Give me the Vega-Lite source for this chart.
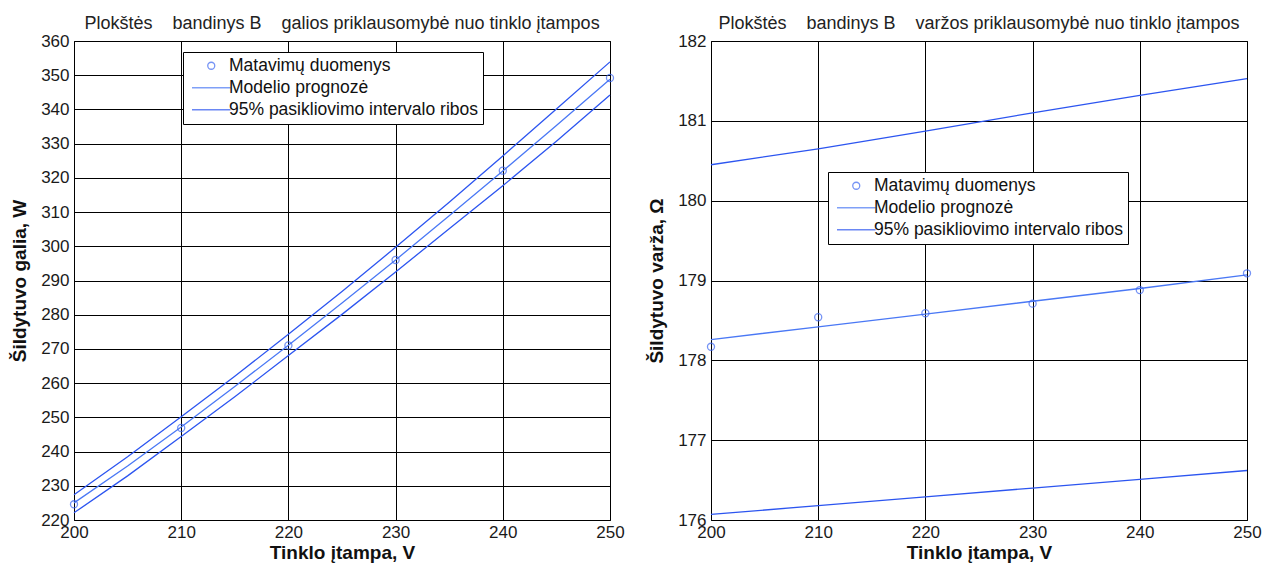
{
  "$schema": "https://vega.github.io/schema/vega-lite/v6.json",
  "background": "white",
  "padding": {"left": 10, "top": 14, "right": 5, "bottom": 0},
  "spacing": 22,
  "datasets": {
    "galia_lines": [
      {"x": 200, "y": 225.0, "series": "Modelio prognozė", "curve": "m"},
      {"x": 205, "y": 235.8, "series": "Modelio prognozė", "curve": "m"},
      {"x": 210, "y": 247.2, "series": "Modelio prognozė", "curve": "m"},
      {"x": 215, "y": 259.0, "series": "Modelio prognozė", "curve": "m"},
      {"x": 220, "y": 271.1, "series": "Modelio prognozė", "curve": "m"},
      {"x": 225, "y": 283.4, "series": "Modelio prognozė", "curve": "m"},
      {"x": 230, "y": 296.0, "series": "Modelio prognozė", "curve": "m"},
      {"x": 235, "y": 308.9, "series": "Modelio prognozė", "curve": "m"},
      {"x": 240, "y": 322.0, "series": "Modelio prognozė", "curve": "m"},
      {"x": 245, "y": 335.3, "series": "Modelio prognozė", "curve": "m"},
      {"x": 250, "y": 348.8, "series": "Modelio prognozė", "curve": "m"},
      {"x": 200, "y": 227.4, "series": "95% pasikliovimo intervalo ribos", "curve": "u"},
      {"x": 205, "y": 238.5, "series": "95% pasikliovimo intervalo ribos", "curve": "u"},
      {"x": 210, "y": 250.2, "series": "95% pasikliovimo intervalo ribos", "curve": "u"},
      {"x": 215, "y": 262.0, "series": "95% pasikliovimo intervalo ribos", "curve": "u"},
      {"x": 220, "y": 274.3, "series": "95% pasikliovimo intervalo ribos", "curve": "u"},
      {"x": 225, "y": 286.8, "series": "95% pasikliovimo intervalo ribos", "curve": "u"},
      {"x": 230, "y": 299.7, "series": "95% pasikliovimo intervalo ribos", "curve": "u"},
      {"x": 235, "y": 312.9, "series": "95% pasikliovimo intervalo ribos", "curve": "u"},
      {"x": 240, "y": 326.4, "series": "95% pasikliovimo intervalo ribos", "curve": "u"},
      {"x": 245, "y": 340.1, "series": "95% pasikliovimo intervalo ribos", "curve": "u"},
      {"x": 250, "y": 353.9, "series": "95% pasikliovimo intervalo ribos", "curve": "u"},
      {"x": 200, "y": 222.1, "series": "95% pasikliovimo intervalo ribos", "curve": "l"},
      {"x": 205, "y": 232.9, "series": "95% pasikliovimo intervalo ribos", "curve": "l"},
      {"x": 210, "y": 244.4, "series": "95% pasikliovimo intervalo ribos", "curve": "l"},
      {"x": 215, "y": 256.0, "series": "95% pasikliovimo intervalo ribos", "curve": "l"},
      {"x": 220, "y": 268.1, "series": "95% pasikliovimo intervalo ribos", "curve": "l"},
      {"x": 225, "y": 280.1, "series": "95% pasikliovimo intervalo ribos", "curve": "l"},
      {"x": 230, "y": 292.5, "series": "95% pasikliovimo intervalo ribos", "curve": "l"},
      {"x": 235, "y": 305.1, "series": "95% pasikliovimo intervalo ribos", "curve": "l"},
      {"x": 240, "y": 317.7, "series": "95% pasikliovimo intervalo ribos", "curve": "l"},
      {"x": 245, "y": 330.7, "series": "95% pasikliovimo intervalo ribos", "curve": "l"},
      {"x": 250, "y": 344.2, "series": "95% pasikliovimo intervalo ribos", "curve": "l"}
    ],
    "galia_points": [
      {"x": 200, "y": 224.6, "series": "Matavimų duomenys"},
      {"x": 210, "y": 246.9, "series": "Matavimų duomenys"},
      {"x": 220, "y": 271.0, "series": "Matavimų duomenys"},
      {"x": 230, "y": 296.0, "series": "Matavimų duomenys"},
      {"x": 240, "y": 322.1, "series": "Matavimų duomenys"},
      {"x": 250, "y": 349.2, "series": "Matavimų duomenys"}
    ],
    "varza_lines": [
      {"x": 200, "y": 178.26, "series": "Modelio prognozė", "curve": "m"},
      {"x": 210, "y": 178.42, "series": "Modelio prognozė", "curve": "m"},
      {"x": 220, "y": 178.58, "series": "Modelio prognozė", "curve": "m"},
      {"x": 230, "y": 178.74, "series": "Modelio prognozė", "curve": "m"},
      {"x": 240, "y": 178.90, "series": "Modelio prognozė", "curve": "m"},
      {"x": 250, "y": 179.07, "series": "Modelio prognozė", "curve": "m"},
      {"x": 200, "y": 180.45, "series": "95% pasikliovimo intervalo ribos", "curve": "u"},
      {"x": 210, "y": 180.65, "series": "95% pasikliovimo intervalo ribos", "curve": "u"},
      {"x": 220, "y": 180.87, "series": "95% pasikliovimo intervalo ribos", "curve": "u"},
      {"x": 230, "y": 181.10, "series": "95% pasikliovimo intervalo ribos", "curve": "u"},
      {"x": 240, "y": 181.32, "series": "95% pasikliovimo intervalo ribos", "curve": "u"},
      {"x": 250, "y": 181.53, "series": "95% pasikliovimo intervalo ribos", "curve": "u"},
      {"x": 200, "y": 176.07, "series": "95% pasikliovimo intervalo ribos", "curve": "l"},
      {"x": 210, "y": 176.18, "series": "95% pasikliovimo intervalo ribos", "curve": "l"},
      {"x": 220, "y": 176.29, "series": "95% pasikliovimo intervalo ribos", "curve": "l"},
      {"x": 230, "y": 176.40, "series": "95% pasikliovimo intervalo ribos", "curve": "l"},
      {"x": 240, "y": 176.51, "series": "95% pasikliovimo intervalo ribos", "curve": "l"},
      {"x": 250, "y": 176.62, "series": "95% pasikliovimo intervalo ribos", "curve": "l"}
    ],
    "varza_points": [
      {"x": 200, "y": 178.17, "series": "Matavimų duomenys"},
      {"x": 210, "y": 178.54, "series": "Matavimų duomenys"},
      {"x": 220, "y": 178.59, "series": "Matavimų duomenys"},
      {"x": 230, "y": 178.71, "series": "Matavimų duomenys"},
      {"x": 240, "y": 178.88, "series": "Matavimų duomenys"},
      {"x": 250, "y": 179.09, "series": "Matavimų duomenys"}
    ]
  },
  "config": {
    "font": "Liberation Sans",
    "view": {"stroke": "black", "strokeWidth": 1},
    "axis": {
      "grid": true, "gridColor": "black", "gridOpacity": 1, "gridWidth": 1,
      "domain": false, "ticks": false, "labelFlush": false, "labelOverlap": false,
      "labelFont": "Liberation Sans", "labelFontSize": 17, "labelColor": "#1a1a1a", "labelPadding": 5,
      "titleFont": "Liberation Sans", "titleFontSize": 19, "titleFontWeight": "bold", "titleColor": "#111"
    },
    "axisX": {"labelPadding": 4, "titlePadding": 3},
    "axisY": {"titlePadding": 11},
    "legend": {
      "orient": "none", "strokeColor": "black", "fillColor": "white", "padding": 5,
      "labelFont": "Liberation Sans", "labelFontSize": 17.5, "labelColor": "#111", "labelLimit": 400,
      "symbolSize": 49, "symbolStrokeWidth": 1.3, "symbolFillColor": "transparent",
      "symbolOffset": 14.5, "labelOffset": 9, "rowPadding": 3, "cornerRadius": 0
    },
    "title": {"font": "Liberation Sans", "fontSize": 18, "fontWeight": "normal", "color": "#222", "offset": -1}
  },
  "hconcat": [
    {
      "width": 536, "height": 479,
      "title": {"text": "Plokštės\u00a0\u00a0\u00a0 bandinys B\u00a0\u00a0\u00a0 galios priklausomybė nuo tinklo įtampos"},
      "encoding": {
        "x": {"field": "x", "type": "quantitative", "title": "Tinklo įtampa, V", "scale": {"domain": [200, 250], "nice": false}, "axis": {"values": [200, 210, 220, 230, 240, 250]}},
        "y": {"field": "y", "type": "quantitative", "title": "Šildytuvo galia, W", "scale": {"domain": [220, 360], "nice": false, "zero": false}, "axis": {"values": [220, 230, 240, 250, 260, 270, 280, 290, 300, 310, 320, 330, 340, 350, 360], "format": "d"}},
        "color": {"field": "series", "type": "nominal", "scale": {"domain": ["Matavimų duomenys", "Modelio prognozė", "95% pasikliovimo intervalo ribos"], "range": ["#3d67f2", "#4a78f5", "#2c55f0"]}, "legend": {"title": null, "legendX": 109, "legendY": 11}}
      },
      "layer": [
        {
          "data": {"name": "galia_lines"},
          "mark": {"type": "line", "strokeWidth": 1.3},
          "encoding": {"detail": {"field": "curve"}}
        },
        {
          "data": {"name": "galia_points"},
          "mark": {"type": "point", "filled": false, "size": 50, "strokeWidth": 1.3},
          "encoding": {
            "shape": {"field": "series", "type": "nominal", "scale": {"domain": ["Matavimų duomenys", "Modelio prognozė", "95% pasikliovimo intervalo ribos"], "range": ["circle", "M-5.5,0H5.5", "M-5.5,0H5.5"]}, "legend": {"title": null, "legendX": 109, "legendY": 11}}
          }
        }
      ]
    },
    {
      "width": 536, "height": 479,
      "title": {"text": "Plokštės\u00a0\u00a0\u00a0 bandinys B\u00a0\u00a0\u00a0 varžos priklausomybė nuo tinklo įtampos"},
      "encoding": {
        "x": {"field": "x", "type": "quantitative", "title": "Tinklo įtampa, V", "scale": {"domain": [200, 250], "nice": false}, "axis": {"values": [200, 210, 220, 230, 240, 250]}},
        "y": {"field": "y", "type": "quantitative", "title": "Šildytuvo varža, Ω", "scale": {"domain": [176, 182], "nice": false, "zero": false}, "axis": {"values": [176, 177, 178, 179, 180, 181, 182], "format": "d"}},
        "color": {"field": "series", "type": "nominal", "scale": {"domain": ["Matavimų duomenys", "Modelio prognozė", "95% pasikliovimo intervalo ribos"], "range": ["#3d67f2", "#4a78f5", "#2c55f0"]}, "legend": {"title": null, "legendX": 117, "legendY": 131}}
      },
      "layer": [
        {
          "data": {"name": "varza_lines"},
          "mark": {"type": "line", "strokeWidth": 1.3},
          "encoding": {"detail": {"field": "curve"}}
        },
        {
          "data": {"name": "varza_points"},
          "mark": {"type": "point", "filled": false, "size": 50, "strokeWidth": 1.3},
          "encoding": {
            "shape": {"field": "series", "type": "nominal", "scale": {"domain": ["Matavimų duomenys", "Modelio prognozė", "95% pasikliovimo intervalo ribos"], "range": ["circle", "M-5.5,0H5.5", "M-5.5,0H5.5"]}, "legend": {"title": null, "legendX": 117, "legendY": 131}}
          }
        }
      ]
    }
  ],
  "resolve": {
    "scale": {"color": "independent", "shape": "independent"},
    "legend": {"color": "independent", "shape": "independent"}
  }
}
